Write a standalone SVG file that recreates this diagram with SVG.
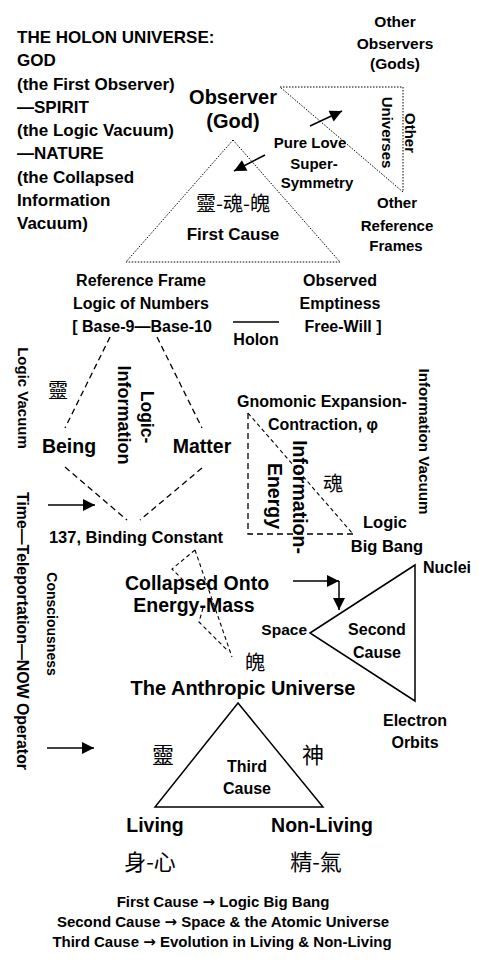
<svg xmlns="http://www.w3.org/2000/svg" width="487" height="971" viewBox="0 0 487 971">
<style>
.t{font-family:"Liberation Sans",Arial,"Noto Sans CJK TC",sans-serif;font-weight:bold;fill:#000}
.m{text-anchor:middle}
.e{text-anchor:end}
.c{font-family:"Noto Sans CJK TC","Noto Sans CJK SC",sans-serif;font-weight:normal;fill:#000;text-anchor:middle}
.ar{font-family:"DejaVu Sans",sans-serif;font-weight:bold}
.dot{fill:none;stroke:#000;stroke-width:1;stroke-dasharray:1.5 1.5}
.dash{fill:none;stroke:#000;stroke-width:1.3;stroke-dasharray:6 4}
.dash2{fill:none;stroke:#000;stroke-width:1.1;stroke-dasharray:4 3}
.sol{fill:none;stroke:#000;stroke-width:1.5}
.arr{fill:none;stroke:#000;stroke-width:1.5;marker-end:url(#ah)}
</style>
<defs>
<marker id="ah" viewBox="0 0 10 10" refX="10" refY="5" markerWidth="14" markerHeight="12" markerUnits="userSpaceOnUse" orient="auto">
<path d="M0,0 L10,5 L0,10 z" fill="#000"/>
</marker>
</defs>
<rect width="487" height="971" fill="#fff"/>

<g id="title" class="t" font-size="17">
<text x="17" y="43">THE HOLON UNIVERSE:</text>
<text x="17" y="66">GOD</text>
<text x="17" y="89.5">(the First Observer)</text>
<text x="17" y="113">—SPIRIT</text>
<text x="17" y="136">(the Logic Vacuum)</text>
<text x="17" y="159">—NATURE</text>
<text x="17" y="182.5">(the Collapsed</text>
<text x="17" y="205.5">Information</text>
<text x="17" y="228.5">Vacuum)</text>
</g>

<g id="other-observers" class="t m" font-size="15.5">
<text x="395" y="27">Other</text>
<text x="395" y="48.5">Observers</text>
<text x="395" y="69">(Gods)</text>
</g>

<g id="other-universes">
<path class="dot" d="M280,87 L403,87 L403,192 Z"/>
<text class="t m" font-size="15" transform="translate(410,133) rotate(90)" y="5">Other</text>
<text class="t m" font-size="15" transform="translate(387,132.5) rotate(90)" y="5">Universes</text>
</g>

<g id="other-frames" class="t m" font-size="15">
<text x="397" y="208">Other</text>
<text x="397" y="230.5">Reference</text>
<text x="396" y="250.5">Frames</text>
</g>

<g id="observer" class="t m" font-size="20">
<text x="233" y="104">Observer</text>
<text x="233" y="128">(God)</text>
</g>

<g id="pure-love" class="t m" font-size="15">
<text x="310" y="148">Pure Love</text>
<text x="314" y="169">Super-</text>
<text x="317" y="188">Symmetry</text>
</g>

<g id="first-cause">
<path class="dot" d="M233,140 L126,262 L340,262 Z"/>
<text class="c" font-size="20" x="233" y="211">靈-魂-魄</text>
<text class="t m" font-size="17" x="233" y="240">First Cause</text>
</g>

<g id="reference-frame" class="t m" font-size="16">
<text x="141" y="286">Reference Frame</text>
<text x="141" y="309">Logic of Numbers</text>
<text x="142" y="332">[ Base-9—Base-10</text>
</g>

<g id="observed" class="t m" font-size="16">
<text x="340" y="286">Observed</text>
<text x="340" y="309">Emptiness</text>
<text x="343" y="332">Free-Will ]</text>
</g>

<g id="holon">
<line class="sol" x1="233" y1="322" x2="279" y2="322"/>
<text class="t m" font-size="16" x="256" y="345">Holon</text>
</g>

<g id="logic-vacuum">
<text class="t m" font-size="15" transform="translate(23,398) rotate(90)" y="5">Logic Vacuum</text>
<text class="c" font-size="20" x="58" y="397.5">靈</text>
</g>

<g id="being"><text class="t m" font-size="19.5" x="69" y="453">Being</text></g>
<g id="matter"><text class="t m" font-size="19.5" x="202" y="453">Matter</text></g>
<g id="logic-information">
<text class="t m" font-size="17.5" transform="translate(147,417) rotate(90)" y="6">Logic-</text>
<text class="t m" font-size="18" transform="translate(124,415) rotate(90)" y="6">Information</text>
</g>

<g id="binding-constant"><text class="t m" font-size="16.5" x="136" y="543">137, Binding Constant</text></g>

<g id="time-operator">
<text class="t m" font-size="16" transform="translate(23,631) rotate(90)" y="6" textLength="278" lengthAdjust="spacingAndGlyphs">Time—Teleportation—NOW Operator</text>
</g>
<g id="consciousness">
<text class="t m" font-size="14" transform="translate(52,624) rotate(90)" y="5">Consciousness</text>
</g>

<g id="gnomonic" class="t m" font-size="16">
<text x="322" y="407">Gnomonic Expansion-</text>
<text x="323" y="430">Contraction, φ</text>
</g>

<g id="information-energy">
<path class="dash" d="M248,413 L248,534 L353,534"/>
<path class="dash2" d="M248,413 L353,534"/>
<text class="t m" font-size="19.5" transform="translate(300,497) rotate(90)" y="7">Information-</text>
<text class="t m" font-size="19.5" transform="translate(275,496) rotate(90)" y="7">Energy</text>
<text class="c" font-size="20" x="333" y="490.5">魂</text>
</g>

<g id="logic-big-bang" class="t m" font-size="16.5">
<text x="385" y="528">Logic</text>
<text x="387" y="552">Big Bang</text>
</g>

<g id="information-vacuum">
<text class="t m" font-size="15.2" transform="translate(424,441.5) rotate(90)" y="5">Information Vacuum</text>
</g>

<g id="collapsed">
<text class="t m" font-size="19.5" x="197" y="590">Collapsed Onto</text>
<text class="t m" font-size="19.5" x="194" y="612">Energy-Mass</text>
<text class="c" font-size="20" x="255" y="669.5">魄</text>
</g>

<g id="anthropic"><text class="t m" font-size="20" x="243" y="695">The Anthropic Universe</text></g>

<g id="second-cause">
<path class="sol" d="M310,633 L415,565 L415,701 Z"/>
<text class="t m" font-size="16" x="377" y="635">Second</text>
<text class="t m" font-size="16" x="377" y="658">Cause</text>
<text class="t e" font-size="15.5" x="307" y="635">Space</text>
<text class="t m" font-size="16" x="447" y="573">Nuclei</text>
<text class="t m" font-size="16" x="415" y="726">Electron</text>
<text class="t m" font-size="16" x="415" y="748">Orbits</text>
</g>

<g id="third-cause">
<path class="sol" d="M238,703 L155,807 L323,807 Z"/>
<text class="t m" font-size="16" x="247" y="772">Third</text>
<text class="t m" font-size="16" x="247" y="794">Cause</text>
<text class="c" font-size="22" x="163" y="763">靈</text>
<text class="c" font-size="22" x="313" y="763">神</text>
</g>

<g id="living">
<text class="t m" font-size="19.5" x="155" y="832">Living</text>
<text class="c" font-size="22" x="150" y="870">身-心</text>
</g>
<g id="non-living">
<text class="t m" font-size="19.5" x="322" y="832">Non-Living</text>
<text class="c" font-size="22" x="316" y="870">精-氣</text>
</g>

<g id="summary" class="t m" font-size="15">
<text x="223" y="907">First Cause <tspan class="ar">→</tspan> Logic Big Bang</text>
<text x="223" y="927">Second Cause <tspan class="ar">→</tspan> Space &amp; the Atomic Universe</text>
<text x="222" y="947">Third Cause <tspan class="ar">→</tspan> Evolution in Living &amp; Non-Living</text>
</g>

<g id="connectors">
<path class="arr" d="M310,126 L342,111"/>
<path class="arr" d="M265,155 L234,171"/>
<path class="dash" d="M110,337 L65,428 M157,337 L202,428 M65,467 L127,520 M202,468 L140,520"/>
<path class="arr" d="M48,505 L95,505"/>
<path class="arr" d="M47,748 L94,748"/>
<path class="dash2" d="M195,550 L172,569 L195,592 M195,550 L232,657 M203,608 L199,622 L227,650"/>
<path class="arr" d="M293,581 L339,581"/>
<path class="arr" d="M339,581 L339,610"/>
</g>
</svg>
